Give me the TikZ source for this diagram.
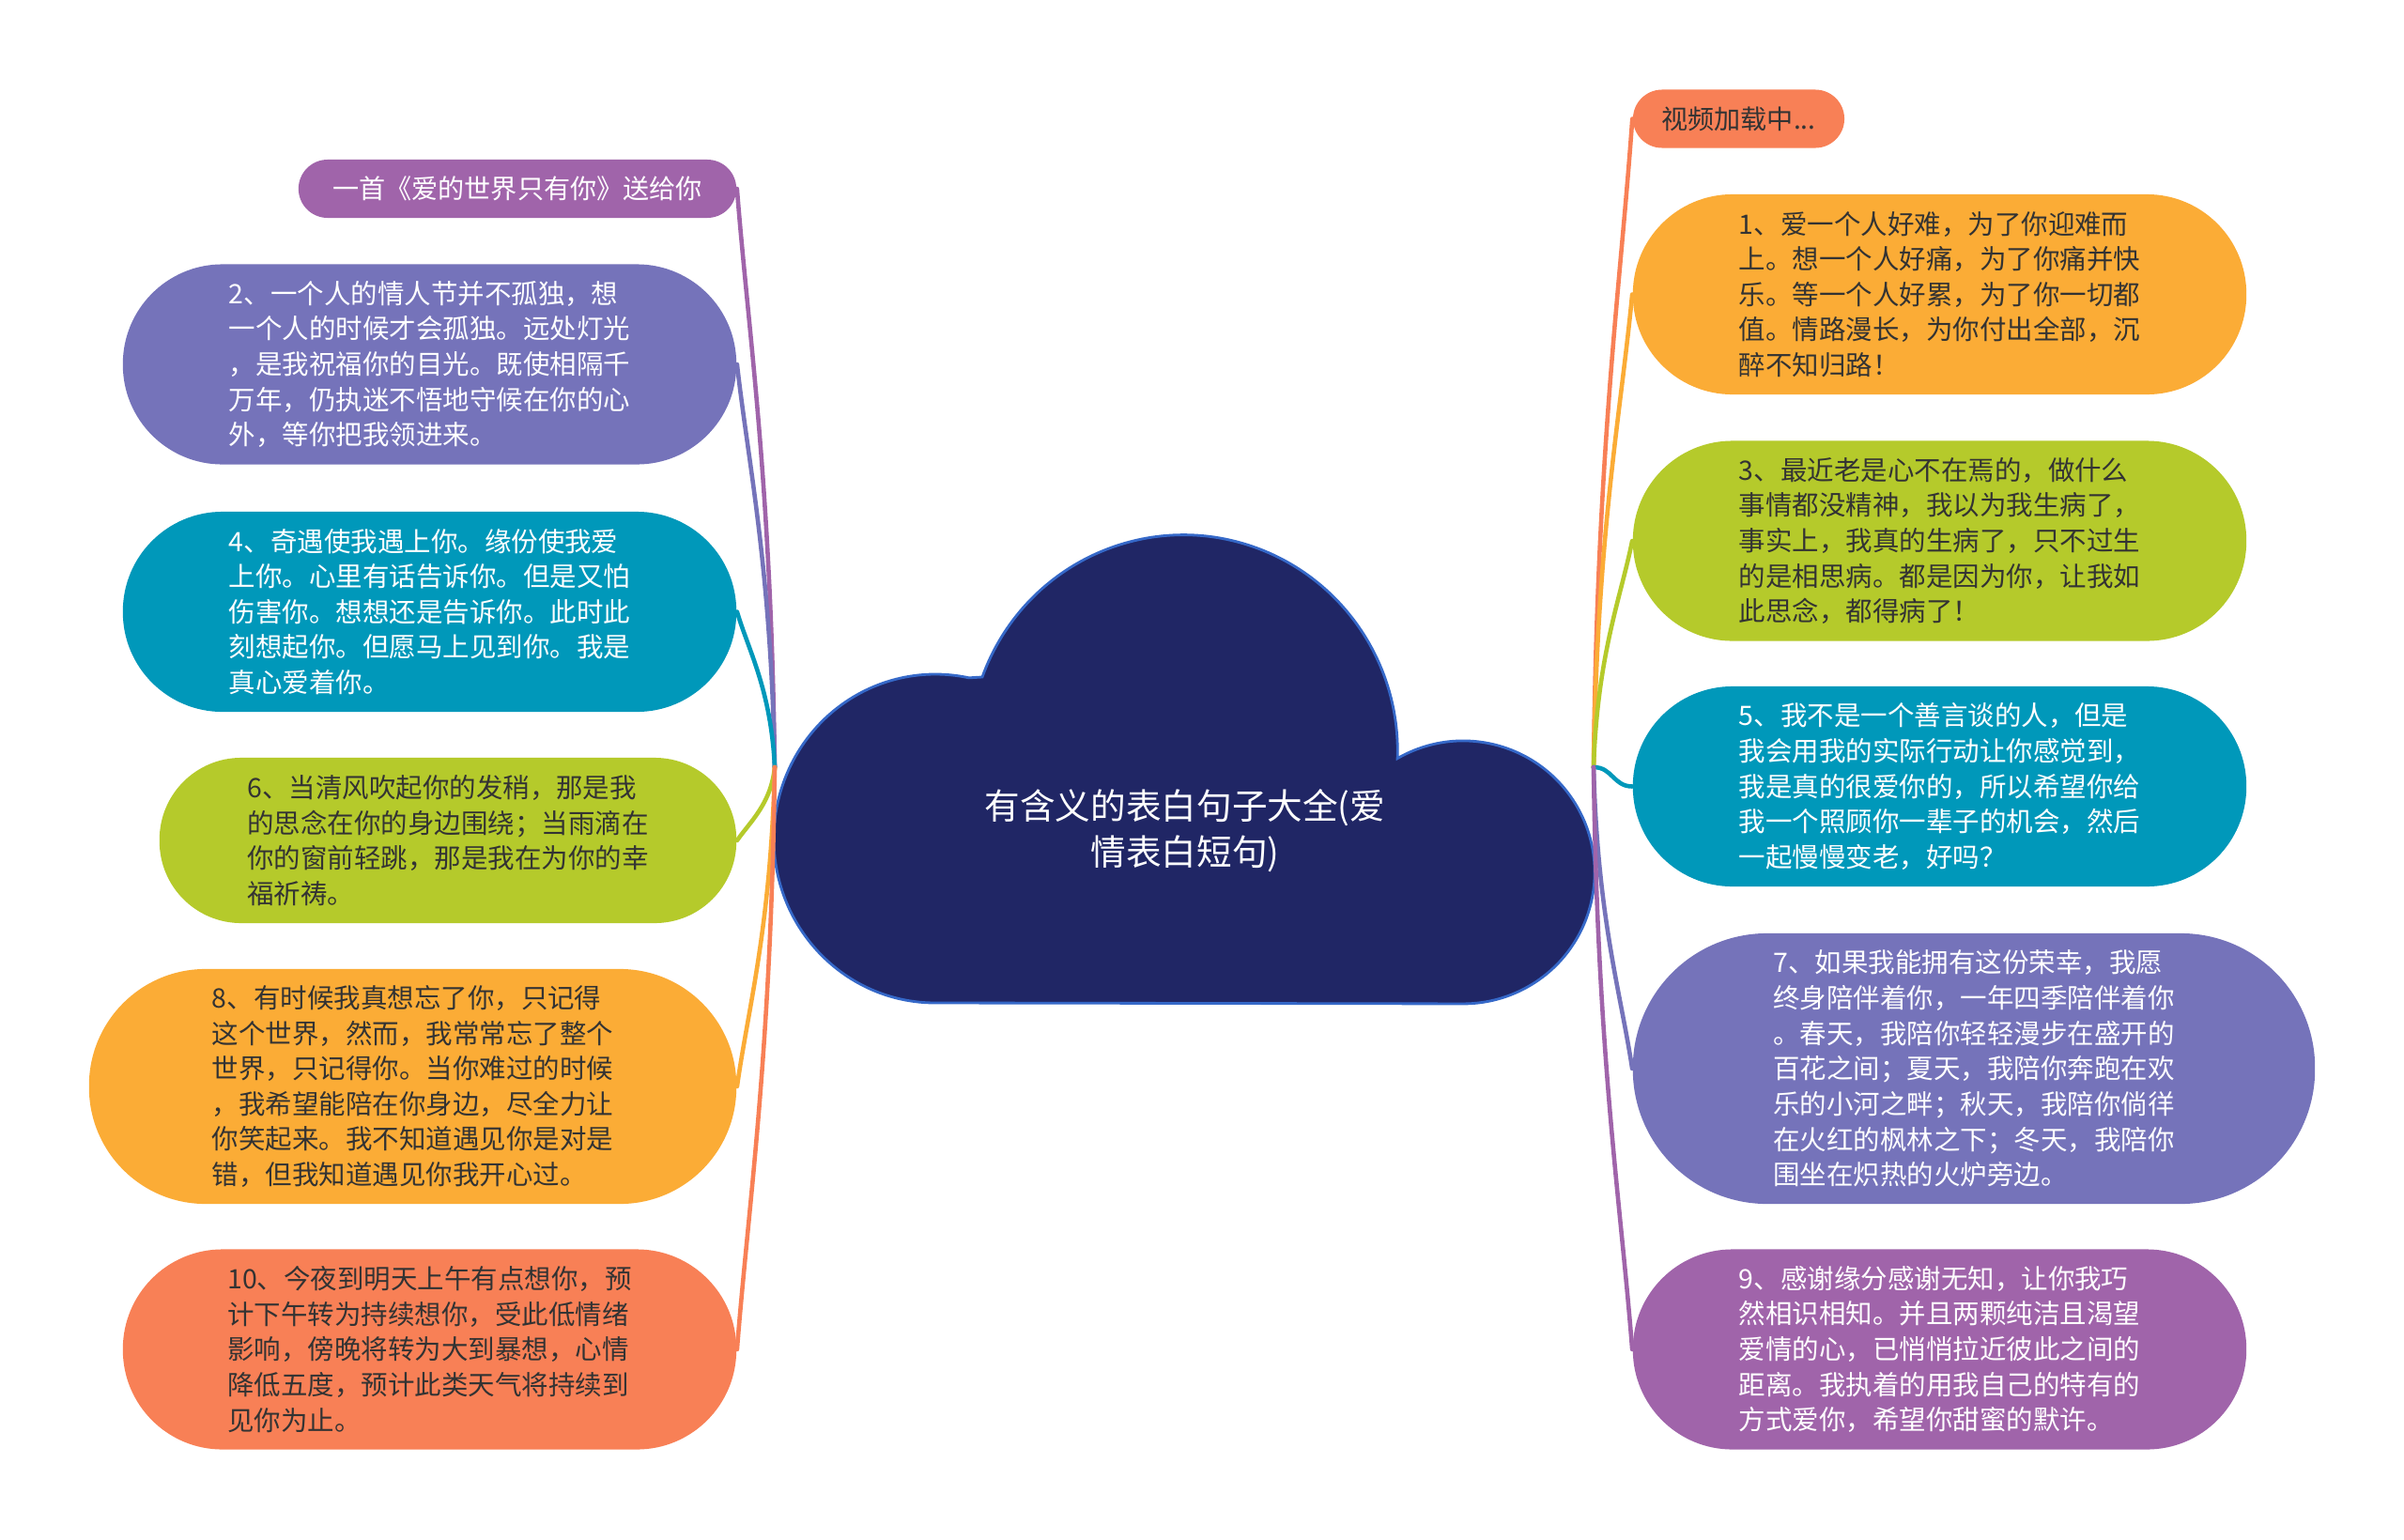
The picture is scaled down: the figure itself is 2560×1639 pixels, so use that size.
\documentclass[tikz,border=0pt]{standalone}
\usepackage{fontspec}
\setmainfont{Noto Sans CJK SC}
\usetikzlibrary{positioning}
\definecolor{cPurple}{HTML}{A064AA}
\definecolor{cIndigo}{HTML}{7573BA}
\definecolor{cTeal}{HTML}{0098BA}
\definecolor{cLime}{HTML}{B5CA2B}
\definecolor{cOrange}{HTML}{FBAC36}
\definecolor{cCoral}{HTML}{F88056}
\definecolor{cCloud}{HTML}{202665}
\definecolor{cCloudEdge}{HTML}{3568C8}
\definecolor{ink}{HTML}{333333}
\newcommand{\leaffont}{\fontsize{8.1pt}{10.7pt}\selectfont}

\begin{document}
\begin{tikzpicture}[x=0.01cm,y=0.01cm,
 leaf/.style={inner sep=0pt,align=left,font=\leaffont},
 big/.style={minimum width=6.53cm,minimum height=2.13cm,rounded corners=1.06cm},
 pill/.style={inner sep=0pt,font=\fontsize{8pt}{10pt}\selectfont,minimum height=.62cm,rounded corners=.31cm},
 link/.style={line width=1.3pt,line cap=round}]
 \fill[white] (0,0) rectangle (2560,-1639);
 \useasboundingbox (0,0) rectangle (2560,-1639);
 % central cloud
 \filldraw[fill=cCloud,draw=cCloudEdge,line width=.8pt]
   (996,-1068) arc[start angle=270,end angle=78,x radius=172,y radius=175]
   -- (1046,-721) arc[start angle=160,end angle=-2,x radius=228,y radius=230]
   arc[start angle=120,end angle=-90,x radius=140,y radius=140] -- cycle;
 \node[font=\fontsize{10.7pt}{13.9pt}\selectfont,text=white,align=center] (root) at (1262,-885)
   {有含义的表白句子大全(爱\\情表白短句)};
 \coordinate (hubL) at (825,-817);
 \coordinate (hubR) at (1697,-817);
 % left side
 \node[pill,fill=cPurple,text=white,minimum width=4.66cm] (l1) at (551,-201) {一首《爱的世界只有你》送给你};
 \node[leaf,big,fill=cIndigo,text=white] (l2) at (457.5,-388)
   {2、一个人的情人节并不孤独，想\\一个人的时候才会孤独。远处灯光\\，是我祝福你的目光。既使相隔千\\万年，仍执迷不悟地守候在你的心\\外，等你把我领进来。};
 \node[leaf,big,fill=cTeal,text=white] (l3) at (457.5,-651.5)
   {4、奇遇使我遇上你。缘份使我爱\\上你。心里有话告诉你。但是又怕\\伤害你。想想还是告诉你。此时此\\刻想起你。但愿马上见到你。我是\\真心爱着你。};
 \node[leaf,fill=cLime,text=ink,minimum width=6.14cm,minimum height=1.76cm,rounded corners=.87cm] (l4) at (477,-895)
   {6、当清风吹起你的发稍，那是我\\的思念在你的身边围绕；当雨滴在\\你的窗前轻跳，那是我在为你的幸\\福祈祷。};
 \node[leaf,fill=cOrange,text=ink,minimum width=6.89cm,minimum height=2.5cm,rounded corners=1.24cm] (l5) at (439.5,-1157)
   {8、有时候我真想忘了你，只记得\\这个世界，然而，我常常忘了整个\\世界，只记得你。当你难过的时候\\，我希望能陪在你身边，尽全力让\\你笑起来。我不知道遇见你是对是\\错，但我知道遇见你我开心过。};
 \node[leaf,big,fill=cCoral,text=ink] (l6) at (457.5,-1437)
   {10、今夜到明天上午有点想你，预\\计下午转为持续想你，受此低情绪\\影响，傍晚将转为大到暴想，心情\\降低五度，预计此类天气将持续到\\见你为止。};
 % right side
 \node[pill,fill=cCoral,text=ink,minimum width=2.25cm] (r0) at (1851.5,-126.5) {视频加载中...};
 \node[leaf,big,fill=cOrange,text=ink] (r1) at (2065.5,-313.5)
   {1、爱一个人好难，为了你迎难而\\上。想一个人好痛，为了你痛并快\\乐。等一个人好累，为了你一切都\\值。情路漫长，为你付出全部，沉\\醉不知归路！};
 \node[leaf,big,fill=cLime,text=ink] (r2) at (2065.5,-576)
   {3、最近老是心不在焉的，做什么\\事情都没精神，我以为我生病了，\\事实上，我真的生病了，只不过生\\的是相思病。都是因为你，让我如\\此思念，都得病了！};
 \node[leaf,big,fill=cTeal,text=white] (r3) at (2065.5,-837.5)
   {5、我不是一个善言谈的人，但是\\我会用我的实际行动让你感觉到，\\我是真的很爱你的，所以希望你给\\我一个照顾你一辈子的机会，然后\\一起慢慢变老，好吗？};
 \node[leaf,fill=cIndigo,text=white,minimum width=7.26cm,minimum height=2.88cm,rounded corners=1.43cm] (r4) at (2102,-1138)
   {7、如果我能拥有这份荣幸，我愿\\终身陪伴着你，一年四季陪伴着你\\。春天，我陪你轻轻漫步在盛开的\\百花之间；夏天，我陪你奔跑在欢\\乐的小河之畔；秋天，我陪你倘徉\\在火红的枫林之下；冬天，我陪你\\围坐在炽热的火炉旁边。};
 \node[leaf,big,fill=cPurple,text=white] (r5) at (2065.5,-1437)
   {9、感谢缘分感谢无知，让你我巧\\然相识相知。并且两颗纯洁且渴望\\爱情的心，已悄悄拉近彼此之间的\\距离。我执着的用我自己的特有的\\方式爱你，希望你甜蜜的默许。};
 % connectors
 \draw[link,cPurple] (hubL) .. controls +(-4,308) and +(12,-154) .. (l1.east);
 \draw[link,cIndigo] (hubL) .. controls +(-4,215) and +(12,-107) .. (l2.east);
 \draw[link,cTeal] (hubL) .. controls +(-4,83) and +(12,-41) .. (l3.east);
 \draw[link,cLime] (hubL) .. controls +(-4,-39) and +(14,20) .. (l4.east);
 \draw[link,cOrange] (hubL) .. controls +(-4,-170) and +(12,85) .. (l5.east);
 \draw[link,cCoral] (hubL) .. controls +(-4,-310) and +(12,155) .. (l6.east);
 \draw[link,cCoral] (hubR) .. controls +(4,345) and +(-12,-173) .. (r0.west);
 \draw[link,cOrange] (hubR) .. controls +(4,252) and +(-12,-126) .. (r1.west);
 \draw[link,cLime] (hubR) .. controls +(4,120) and +(-12,-60) .. (r2.west);
 \draw[link,cTeal] (hubR) .. controls +(20,0) and +(-20,0) .. (r3.west);
 \draw[link,cIndigo] (hubR) .. controls +(4,-160) and +(-12,80) .. (r4.west);
 \draw[link,cPurple] (hubR) .. controls +(4,-310) and +(-12,155) .. (r5.west);
\end{tikzpicture}
\end{document}
